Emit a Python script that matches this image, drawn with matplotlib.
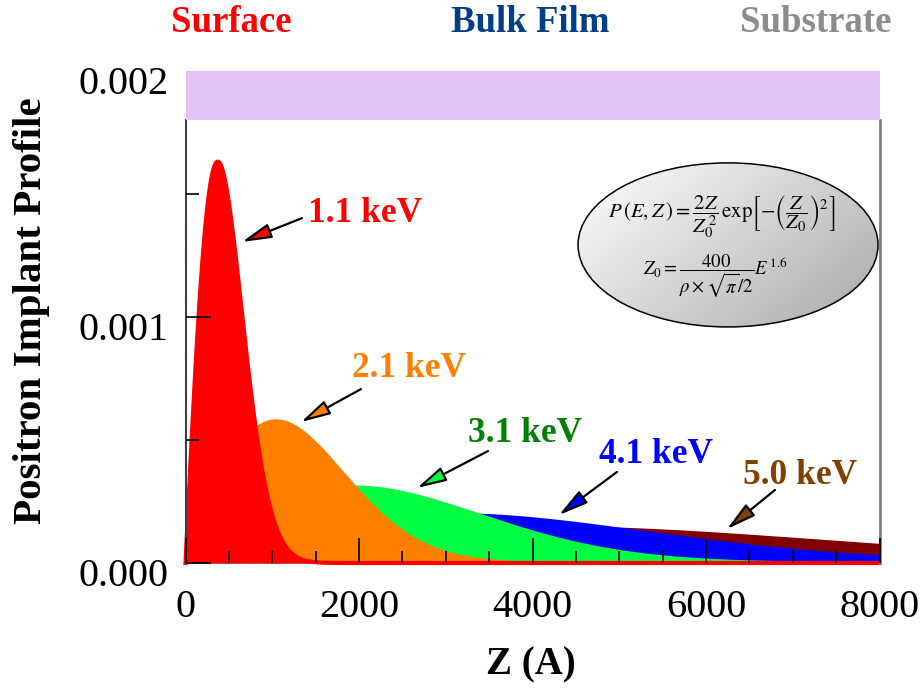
"""
Makhovian positron implantation profiles for several beam energies,
with the profile formula shown in a shaded ellipse.
"""
import numpy as np
import matplotlib
matplotlib.use('Agg')
import matplotlib.pyplot as plt
import matplotlib.transforms as mtransforms
from matplotlib.patches import Ellipse

plt.rcParams['font.family'] = ['Liberation Serif', 'DejaVu Serif']
plt.rcParams['mathtext.fontset'] = 'stix'

# beam energies (keV) and film density (g/cm^3)
energies = [5.0, 4.1, 3.1, 2.1, 1.1]
energy_labels = ['5.0 keV', '4.1 keV', '3.1 keV', '2.1 keV', '1.1 keV']
rho = 1.0

fill_colors = ['#800000', '#0000ff', '#00ff40', '#ff8000', '#ff0000']
text_colors = ['#804000', '#0000ff', '#008000', '#ff8000', '#ff0000']
head_colors = ['#804000', '#0000ff', '#00ff40', '#ff8000', '#ff0000']

# label anchor (x centre, baseline) and arrow tail / tip in data units
label_pos = [(7084, 0.000321), (5424, 0.000407), (3913, 0.000492),
             (2579, 0.000756), (2072, 0.001386)]
arrow_tail = [(6795, 0.000297), (4974, 0.000370), (3487, 0.000455),
              (2023, 0.000707), (1343, 0.001402)]
arrow_tip = [(6242, 0.000138), (4305, 0.000195), (2669, 0.000305),
             (1331, 0.000573), (651, 0.001305)]

region_names = ['Surface', 'Bulk Film', 'Substrate']
region_colors = ['#ff0000', '#003f87', '#8c8c8c']
region_x = [231, 530, 816]


def mean_depth(energy):
    """Z0 = 400 / (rho * sqrt(pi)/2) * E^1.6, in Angstrom"""
    return 400.0 / (rho * np.sqrt(np.pi) / 2.0) * energy ** 1.6


def makhov(z, energy):
    z0 = mean_depth(energy)
    return 2 * z / z0 ** 2 * np.exp(-(z / z0) ** 2)


def plot_profiles():
    fig = plt.figure(figsize=(9.22, 6.96), dpi=100)
    ax = fig.add_axes([185.5 / 922, 1 - 563 / 696, 694 / 922, 492 / 696])
    ax.set_axisbelow(False)

    z = np.linspace(0, 8000, 2001)
    for i, energy in enumerate(energies):
        p = makhov(z, energy)
        ax.fill_between(z, 0, p, color=fill_colors[i], lw=0, zorder=1 + i * 0.1)
        ax.plot(z, p, color=fill_colors[i], lw=1.5, zorder=1.05 + i * 0.1)
    # 1.1 keV tail along the baseline
    ax.plot(z, makhov(z, energies[-1]), color='#ff0000', lw=3, clip_on=False, zorder=1.6)

    for i in range(len(energies)):
        ax.annotate('', xy=arrow_tip[i], xytext=arrow_tail[i],
                    arrowprops=dict(arrowstyle='-|>,head_length=1.8,head_width=0.45',
                                    facecolor=head_colors[i], edgecolor='black',
                                    lw=1.6, shrinkA=0, shrinkB=0), zorder=4)
        ax.text(label_pos[i][0], label_pos[i][1], energy_labels[i], color=text_colors[i],
                fontsize=25.5, fontweight='bold', ha='center', va='baseline', zorder=4)

    # band marking the top region
    ax.axhspan(0.0018, 0.002, color='#e1c3fa', lw=0, zorder=3)

    # formula ellipse with grey gradient
    cx, cy, w, h = 6254, 0.001293, 3458, 0.000667
    ell = Ellipse((cx, cy), w, h, facecolor='none', edgecolor='black', lw=1.1, zorder=6)
    ax.add_patch(ell)
    gy, gx = np.mgrid[0:1:200j, 0:1:200j]
    shade = 1 - 0.34 * (0.6 * gx + 0.4 * gy)
    img = ax.imshow(shade, cmap='gray', vmin=0, vmax=1, origin='upper', aspect='auto',
                    extent=[cx - w / 2, cx + w / 2, cy - h / 2, cy + h / 2], zorder=5)
    img.set_clip_path(ell)
    ax.text(6185, 0.001407,
            r'$P\,(E,Z\,)=\dfrac{2Z}{Z_0^{\,2}}\,\exp\!\left[-\left(\dfrac{Z}{Z_0}\right)^{2}\right]$',
            fontsize=15, ha='center', va='center', zorder=7)
    ax.text(6104, 0.001165,
            r'$Z_0=\dfrac{400}{\rho\times\sqrt{\pi}/2}E^{\,1.6}$',
            fontsize=13.5, ha='center', va='center', zorder=7)

    ax.set_xlim(0, 8000)
    ax.set_ylim(0, 0.002)
    ax.set_xticks([0, 2000, 4000, 6000, 8000])
    ax.set_xticks(np.arange(0, 8001, 500), minor=True)
    ax.set_yticks([0, 0.001, 0.002])
    ax.set_yticklabels(['0.000', '0.001', '0.002'])
    ax.set_yticks([0.0005, 0.0015], minor=True)
    ax.tick_params(which='both', direction='in', width=1.2, color='black',
                   top=False, right=False)
    ax.tick_params(which='major', length=18)
    ax.tick_params(which='minor', length=9)
    ax.tick_params(axis='x', which='major', labelsize=29, pad=19)
    ax.tick_params(axis='y', which='major', labelsize=29, pad=12.5)
    ax.yaxis.get_major_ticks()[2].tick1line.set_visible(False)

    # shift y tick labels down a little
    offset = mtransforms.ScaledTranslation(0, -0.09, fig.dpi_scale_trans)
    for lab in ax.get_yticklabels():
        lab.set_transform(lab.get_transform() + offset)

    ax.spines['top'].set_visible(False)
    ax.spines['bottom'].set_visible(False)
    ax.spines['left'].set_bounds(0, 0.0018)
    ax.spines['left'].set_color('#404040')
    ax.spines['left'].set_linewidth(1.5)
    ax.spines['right'].set_bounds(0, 0.0018)
    ax.spines['right'].set_color('#808080')
    ax.spines['right'].set_linewidth(2)

    fig.text(32 / 922, 1 - 311 / 696, 'Positron Implant Profile', rotation=90,
             fontsize=29.5, fontweight='bold', ha='center', va='center')
    fig.text(531 / 922, 1 - 665 / 696, 'Z (A)', fontsize=28, fontweight='bold',
             ha='center', va='center')
    for name, col, x in zip(region_names, region_colors, region_x):
        fig.text(x / 922, 1 - 32 / 696, name, color=col, fontsize=26.5,
                 fontweight='bold', ha='center', va='baseline')
    return fig


if __name__ == '__main__':
    fig = plot_profiles()
    fig.savefig('out.png', dpi=100)
